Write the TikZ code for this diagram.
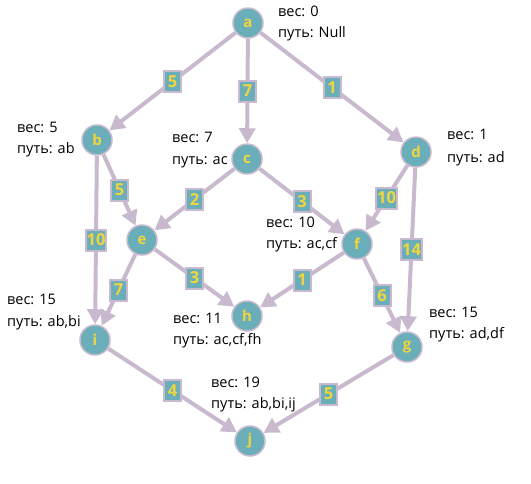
\documentclass[tikz,border=0pt]{standalone}
\usepackage{fontspec}
\setmainfont{Open Sans}
\usetikzlibrary{arrows.meta}
\definecolor{tealfill}{RGB}{106,174,186}
\definecolor{mauve}{RGB}{200,185,206}
\definecolor{goldtxt}{RGB}{240,214,60}
\begin{document}
\begin{tikzpicture}[x=1pt,y=-1pt,
 vert/.style={circle,fill=tealfill,draw=mauve,line width=1.5pt,minimum size=30pt,inner sep=0pt,text=goldtxt,font=\bfseries\fontsize{15}{15}\selectfont},
 edge/.style={draw=mauve,line width=4pt,-{Triangle[length=15pt,width=16pt]}},
 wt/.style={fill=tealfill,draw=mauve,line width=2pt,text=goldtxt,font=\bfseries\fontsize{16.5}{16.5}\selectfont,inner sep=1pt,minimum height=21pt,minimum width=17pt},
 info/.style={anchor=base west,inner sep=0pt,font=\fontsize{14.5}{16}\selectfont,text=black}
]
\useasboundingbox (0,0) rectangle (531,483);
\node[vert] (a) at (248,23) {a};
\node[vert] (b) at (97,140) {b};
\node[vert] (c) at (247,159) {c};
\node[vert] (d) at (416,152) {d};
\node[vert] (e) at (142,240) {e};
\node[vert] (f) at (357,244) {f};
\node[vert] (h) at (247,316) {h};
\node[vert] (i) at (95,340) {i};
\node[vert] (g) at (407,347) {g};
\node[vert] (j) at (250,441) {j};

\draw[edge] (a) -- node[wt]{5} (b);
\draw[edge] (a) -- node[wt]{7} (c);
\draw[edge] (a) -- node[wt]{1} (d);
\draw[edge] (b) -- node[wt]{5} (e);
\draw[edge] (b) -- node[wt]{10} (i);
\draw[edge] (c) -- node[wt]{2} (e);
\draw[edge] (c) -- node[wt]{3} (f);
\draw[edge] (d) -- node[wt]{10} (f);
\draw[edge] (d) -- node[wt]{14} (g);
\draw[edge] (e) -- node[wt]{7} (i);
\draw[edge] (e) -- node[wt]{3} (h);
\draw[edge] (f) -- node[wt]{1} (h);
\draw[edge] (f) -- node[wt]{6} (g);
\draw[edge] (i) -- node[wt]{4} (j);
\draw[edge] (g) -- node[wt]{5} (j);

\node[info] (a1) at (278,16) {вес: 0};
\node[info] (a2) at (278,37) {путь: Null};
\node[info] (b1) at (17,132) {вес: 5};
\node[info] (b2) at (17,153) {путь: ab};
\node[info] (c1) at (172,142) {вес: 7};
\node[info] (c2) at (172,164) {путь: ac};
\node[info] (d1) at (447,139) {вес: 1};
\node[info] (d2) at (447,162) {путь: ad};
\node[info] (f1) at (266,227) {вес: 10};
\node[info] (f2) at (266,248) {путь: ac,cf};
\node[info] (i1) at (7,304) {вес: 15};
\node[info] (i2) at (7,326) {путь: ab,bi};
\node[info] (h1) at (173,323) {вес: 11};
\node[info] (h2) at (173,344) {путь: ac,cf,fh};
\node[info] (j1) at (211,387) {вес: 19};
\node[info] (j2) at (211,408) {путь: ab,bi,ij};
\node[info] (g1) at (429,317) {вес: 15};
\node[info] (g2) at (429,338) {путь: ad,df};
\end{tikzpicture}
\end{document}
